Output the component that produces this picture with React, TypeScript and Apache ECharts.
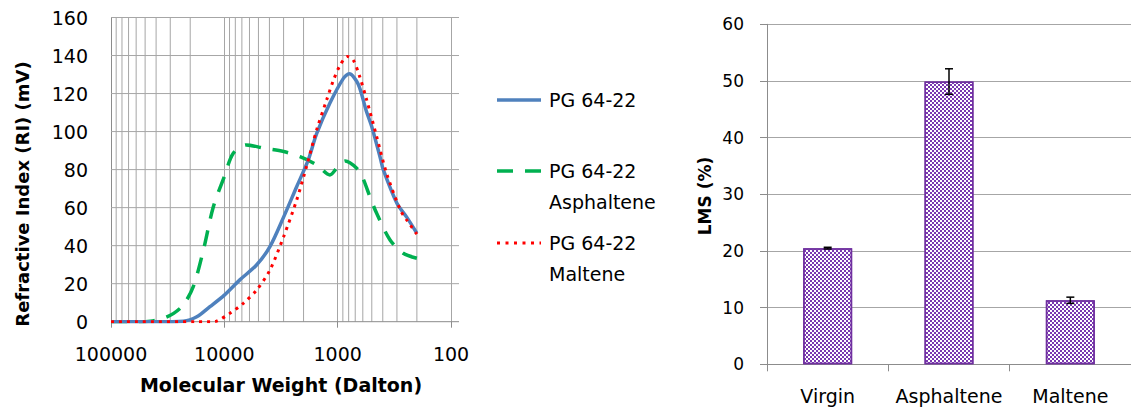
import React, { useEffect, useRef } from 'react';
import * as echarts from 'echarts';

// Left chart: GPC curves, [molecular weight (Dalton), RI (mV)]
const pg6422: [number, number][] = [
  [100000, 0], [40000, 0], [23000, 0.3], [17500, 2.6], [13400, 7.9], [10000, 14],
  [7300, 22], [5200, 29.8], [3960, 39.5], [3000, 55], [2300, 71], [1820, 85],
  [1530, 99], [1170, 115], [890, 128], [790, 130.4], [660, 125], [560, 111],
  [500, 102.6], [420, 86], [396, 80], [300, 62.3], [246, 55], [200, 46.5],
];
const asphaltene: [number, number][] = [
  [100000, 0], [60000, 0], [45000, 0.3], [34600, 1.8], [28000, 4.4], [23000, 8.8],
  [18800, 18.4], [15300, 37.7], [12500, 60.5], [10000, 76.3], [8340, 88.6], [6400, 93],
  [4500, 91.3], [3000, 89.5], [2150, 86.8], [1530, 82.5], [1170, 77.2], [1020, 80.7],
  [860, 84.5], [680, 80.7], [600, 75.5], [520, 65.8], [453, 57], [345, 43],
  [264, 36], [200, 33.4],
];
const maltene: [number, number][] = [
  [100000, 0], [13000, 0], [11700, 0.3], [8930, 4.4], [6800, 9.7], [5180, 16.7],
  [3960, 27.2], [3000, 44.7], [2300, 64], [1875, 82], [1530, 101], [1250, 116.7],
  [1090, 127], [950, 135], [820, 139.5], [730, 137.7], [640, 129], [555, 116.7],
  [453, 97.4], [370, 78], [280, 58.8], [246, 53.5], [200, 46],
];
const minorGridMW: number[] = [
  90000, 80000, 70000, 60000, 50000, 40000, 30000, 20000,
  9000, 8000, 7000, 6000, 5000, 4000, 3000, 2000,
  900, 800, 700, 600, 500, 400, 300, 200,
];
const riGridValues: number[] = [0, 20, 40, 60, 80, 100, 120, 140, 160];

// Right chart: LMS bar chart
const lmsCategories = ['Virgin', 'Asphaltene', 'Maltene'];
const lmsValues = [20.5, 49.9, 11.3];
const lmsErrors = [0.15, 2.25, 0.55];

const legendNames = ['PG 64-22', 'PG 64-22\nAsphaltene', 'PG 64-22\nMaltene'];

const FONT = 'DejaVu Sans';
const GRID_COLOR = '#A6A6A6';
const AXIS_COLOR = '#8C8C8C';

export default function App() {
  const ref = useRef<HTMLDivElement>(null);
  useEffect(() => {
    document.body.style.margin = '0';
    if (!ref.current) return;
    const chart = echarts.init(ref.current, undefined, { renderer: 'svg' });
    const option: any = {
      animation: false,
      backgroundColor: '#ffffff',
      textStyle: { fontFamily: FONT },
      grid: [
        { left: 111, top: 17.5, width: 340, height: 304.2 },
        { left: 767, top: 24.3, width: 366, height: 340 },
      ],
      xAxis: [
        {
          gridIndex: 0, type: 'log', logBase: 10, min: 100, max: 100000, inverse: true,
          axisLine: { show: false },
          axisTick: { show: true, length: 6, lineStyle: { color: AXIS_COLOR } },
          splitLine: { show: true, lineStyle: { color: GRID_COLOR, width: 1 } },
          axisLabel: {
            margin: 23, fontSize: 19, color: '#000', fontFamily: FONT,
            formatter: (v: number) => String(Math.round(v)),
          },
          name: 'Molecular Weight (Dalton)', nameLocation: 'middle', nameGap: 54,
          nameTextStyle: { fontSize: 19, fontWeight: 'bold', color: '#000', fontFamily: FONT },
        },
        {
          gridIndex: 1, type: 'category', data: lmsCategories,
          axisLine: { lineStyle: { color: AXIS_COLOR, width: 1 } },
          axisTick: { show: true, length: 7, lineStyle: { color: AXIS_COLOR } },
          axisLabel: { interval: 0, margin: 22, fontSize: 19, color: '#000', fontFamily: FONT },
        },
      ],
      yAxis: [
        {
          gridIndex: 0, type: 'value', min: 0, max: 160, interval: 20,
          axisLine: { show: true, lineStyle: { color: AXIS_COLOR, width: 1 } },
          axisTick: { show: false },
          splitLine: { show: false },
          axisLabel: { margin: 23, fontSize: 19, color: '#000', fontFamily: FONT },
        },
        {
          gridIndex: 1, type: 'value', min: 0, max: 60, interval: 10,
          axisLine: { show: true, lineStyle: { color: AXIS_COLOR, width: 1 } },
          axisTick: { show: true, length: 7, lineStyle: { color: AXIS_COLOR } },
          splitLine: { show: true, lineStyle: { color: GRID_COLOR, width: 1 } },
          axisLabel: { margin: 23, fontSize: 17, color: '#000', fontFamily: FONT },
        },
      ],
      graphic: [
        {
          type: 'text', x: 22, y: 194, rotation: Math.PI / 2,
          style: {
            text: 'Refractive Index (RI) (mV)', align: 'center', verticalAlign: 'middle',
            font: `bold 18px "${FONT}"`, fill: '#000',
          },
        },
        {
          type: 'text', x: 705, y: 196, rotation: Math.PI / 2,
          style: {
            text: 'LMS (%)', align: 'center', verticalAlign: 'middle',
            font: `bold 17px "${FONT}"`, fill: '#000',
          },
        },
        // legend
        {
          type: 'line', shape: { x1: 497, y1: 100, x2: 541, y2: 100 },
          style: { stroke: '#4F81BD', lineWidth: 3.5 },
        },
        {
          type: 'text', x: 549, y: 100,
          style: { text: legendNames[0], verticalAlign: 'middle', font: `19px "${FONT}"`, fill: '#000' },
        },
        {
          type: 'line', shape: { x1: 497, y1: 171, x2: 541, y2: 171 },
          style: { stroke: '#00B050', lineWidth: 3.5, lineDash: [16, 12] },
        },
        {
          type: 'text', x: 549, y: 155,
          style: { text: legendNames[1], verticalAlign: 'top', lineHeight: 31, font: `19px "${FONT}"`, fill: '#000' },
        },
        {
          type: 'line', shape: { x1: 497, y1: 243, x2: 541, y2: 243 },
          style: { stroke: '#FF0000', lineWidth: 3, lineDash: [3, 5.5] },
        },
        {
          type: 'text', x: 549, y: 227,
          style: { text: legendNames[2], verticalAlign: 'top', lineHeight: 31, font: `19px "${FONT}"`, fill: '#000' },
        },
      ],
      series: [
        {
          type: 'custom', xAxisIndex: 0, yAxisIndex: 0, z: 1, silent: true,
          data: minorGridMW.map((v) => [v]),
          encode: { x: 0 },
          renderItem: (params: any, api: any) => {
            const mw = api.value(0);
            const p0 = api.coord([mw, 0]);
            const p1 = api.coord([mw, 160]);
            return {
              type: 'line',
              shape: { x1: p0[0], y1: p0[1], x2: p1[0], y2: p1[1] },
              style: { stroke: GRID_COLOR, lineWidth: 1 },
            };
          },
        },
        {
          type: 'custom', xAxisIndex: 0, yAxisIndex: 0, z: 1, silent: true, clip: false,
          data: riGridValues.map((v) => [100000, v]),
          encode: { x: 0, y: 1 },
          renderItem: (params: any, api: any) => {
            const v = api.value(1);
            const p0 = api.coord([100000, v]);
            const p1 = api.coord([100, v]);
            return {
              type: 'line',
              shape: { x1: p0[0], y1: p0[1], x2: p1[0] + 8, y2: p1[1] },
              style: { stroke: v === 0 ? AXIS_COLOR : GRID_COLOR, lineWidth: 1 },
            };
          },
        },
        {
          name: 'PG 64-22 Asphaltene', type: 'line', xAxisIndex: 0, yAxisIndex: 0, z: 3,
          data: asphaltene, symbol: 'none', smooth: 0.3,
          lineStyle: { color: '#00B050', width: 3.5, type: [16, 12] },
        },
        {
          name: 'PG 64-22', type: 'line', xAxisIndex: 0, yAxisIndex: 0, z: 4,
          data: pg6422, symbol: 'none', smooth: 0.3,
          lineStyle: { color: '#4F81BD', width: 3.5 },
        },
        {
          name: 'PG 64-22 Maltene', type: 'line', xAxisIndex: 0, yAxisIndex: 0, z: 5,
          data: maltene, symbol: 'none', smooth: 0.3,
          lineStyle: { color: '#FF0000', width: 3, type: [3, 5] },
        },
        {
          name: 'LMS', type: 'bar', xAxisIndex: 1, yAxisIndex: 1, barWidth: 49,
          data: lmsValues,
          itemStyle: {
            color: '#ffffff', borderColor: '#7030A0', borderWidth: 1.5,
            decal: {
              symbol: 'rect', symbolSize: 1, color: '#7A38B0',
              dashArrayX: [[2, 2], [0, 2, 2, 0]], dashArrayY: [2, 0], rotation: 0,
            },
          },
        },
        {
          type: 'custom', xAxisIndex: 1, yAxisIndex: 1, z: 5, silent: true,
          data: lmsValues.map((v, i) => [i, v - lmsErrors[i], v + lmsErrors[i]]),
          encode: { x: 0, y: [1, 2] },
          renderItem: (params: any, api: any) => {
            const i = api.value(0);
            const lo = api.coord([i, api.value(1)]);
            const hi = api.coord([i, api.value(2)]);
            const w = 4;
            const st = { stroke: '#000', lineWidth: 1.5 };
            return {
              type: 'group',
              children: [
                { type: 'line', shape: { x1: lo[0], y1: lo[1], x2: hi[0], y2: hi[1] }, style: st },
                { type: 'line', shape: { x1: lo[0] - w, y1: lo[1], x2: lo[0] + w, y2: lo[1] }, style: st },
                { type: 'line', shape: { x1: hi[0] - w, y1: hi[1], x2: hi[0] + w, y2: hi[1] }, style: st },
              ],
            };
          },
        },
      ],
    };
    chart.setOption(option);
    return () => chart.dispose();
  }, []);
  return <div ref={ref} style={{ width: 1131, height: 407 }} />;
}
